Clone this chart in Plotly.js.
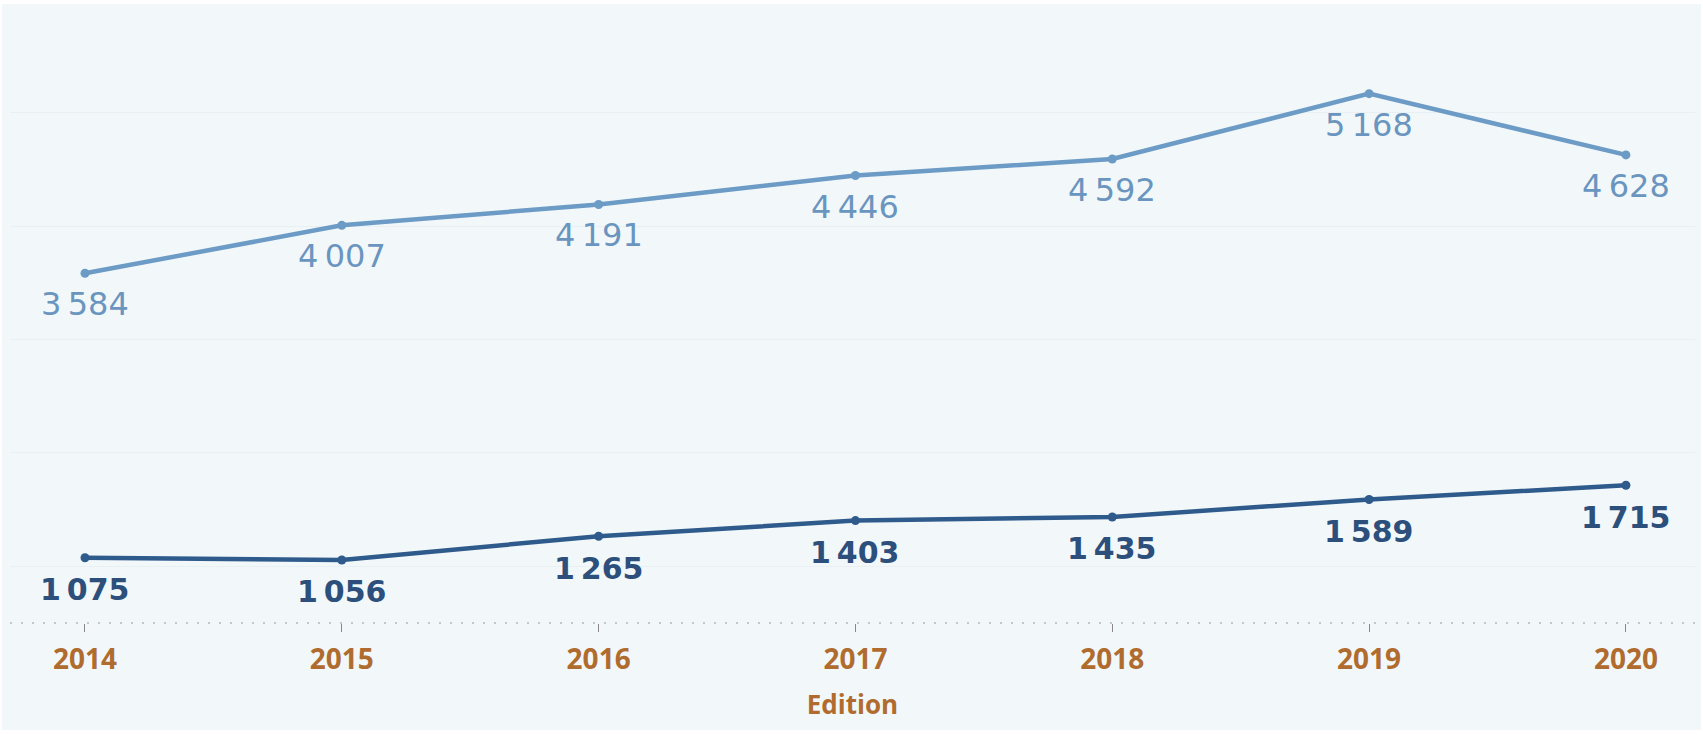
<!DOCTYPE html>
<html>
<head>
<meta charset="utf-8">
<script src="https://cdn.plot.ly/plotly-3.0.1.min.js"></script>
<style>
  html, body { margin: 0; padding: 0; background: #ffffff; width: 1703px; height: 735px; overflow: hidden; }
  #chart { position: absolute; left: 2px; top: 4px; width: 1699px; height: 726px; }
</style>
</head>
<body>
<div id="chart"></div>
<script>
// ---- data ----
var editions = [2014, 2015, 2016, 2017, 2018, 2019, 2020];
var seriesTop = [3584, 4007, 4191, 4446, 4592, 5168, 4628];
var seriesBottom = [1075, 1056, 1265, 1403, 1435, 1589, 1715];
var tickLabels = ['2014', '2015', '2016', '2017', '2018', '2019', '2020'];
var axisTitle = 'Edition';

var colTop = '#6c9bc6';
var colTopText = '#6a95bf';
var colBottom = '#2f5a8c';
var colBottomText = '#2c4f7c';
var colAxis = '#b06c2f';

function fmt(n) {
  return String(n).replace(/\B(?=(\d{3})+(?!\d))/g, '\u202F');
}

var traces = [
  {
    x: editions, y: seriesTop, type: 'scatter', mode: 'lines+markers',
    line: { color: colTop, width: 4.5 },
    marker: { color: colTop, size: 9 },
    hoverinfo: 'x+y'
  },
  {
    x: editions, y: seriesBottom, type: 'scatter', mode: 'lines+markers',
    line: { color: colBottom, width: 4.5 },
    marker: { color: colBottom, size: 9 },
    hoverinfo: 'x+y'
  }
];

var annotations = [];
editions.forEach(function (e, i) {
  annotations.push({
    x: e, y: seriesTop[i], xref: 'x', yref: 'y', showarrow: false,
    text: fmt(seriesTop[i]), yanchor: 'middle', xanchor: 'center', yshift: -31,
    font: { family: 'DejaVu Sans', size: 32, color: colTopText }
  });
  annotations.push({
    x: e, y: seriesBottom[i], xref: 'x', yref: 'y', showarrow: false,
    text: '<b>' + fmt(seriesBottom[i]) + '</b>', yanchor: 'middle', xanchor: 'center', yshift: -32,
    font: { family: 'DejaVu Sans', size: 30, color: colBottomText }
  });
});

var layout = {
  width: 1699, height: 726,
  margin: { l: 8, r: 6, t: 1, b: 107 },
  paper_bgcolor: '#f2f8fa',
  plot_bgcolor: '#f2f8fa',
  showlegend: false,
  separators: '.\u202F',
  xaxis: {
    range: [2013.708, 2020.269],
    tickmode: 'array', tickvals: editions, ticktext: tickLabels,
    ticks: 'outside', ticklen: 8, tickwidth: 1, tickcolor: '#888888',
    tickfont: { family: 'Open Sans', size: 28, color: colAxis, weight: 'bold' },
    ticklabelstandoff: 3,
    showgrid: false, zeroline: false, showline: false,
    title: { text: '<b>' + axisTitle + '</b>', font: { family: 'Open Sans', size: 26, color: colAxis }, standoff: 20 }
  },
  yaxis: {
    range: [500, 5950],
    tickvals: [1000, 2000, 3000, 4000, 5000],
    showticklabels: false, ticks: '',
    showgrid: true, gridcolor: '#e9f0f3', gridwidth: 1,
    zeroline: false, showline: false
  },
  shapes: [
    {
      type: 'line', xref: 'paper', yref: 'paper', x0: 0, x1: 1, y0: 0, y1: 0,
      line: { color: '#b8b8b8', width: 1.5, dash: '2px,9px' }
    }
  ],
  annotations: annotations
};

Plotly.newPlot('chart', traces, layout, { displayModeBar: false, staticPlot: true });
</script>
</body>
</html>
